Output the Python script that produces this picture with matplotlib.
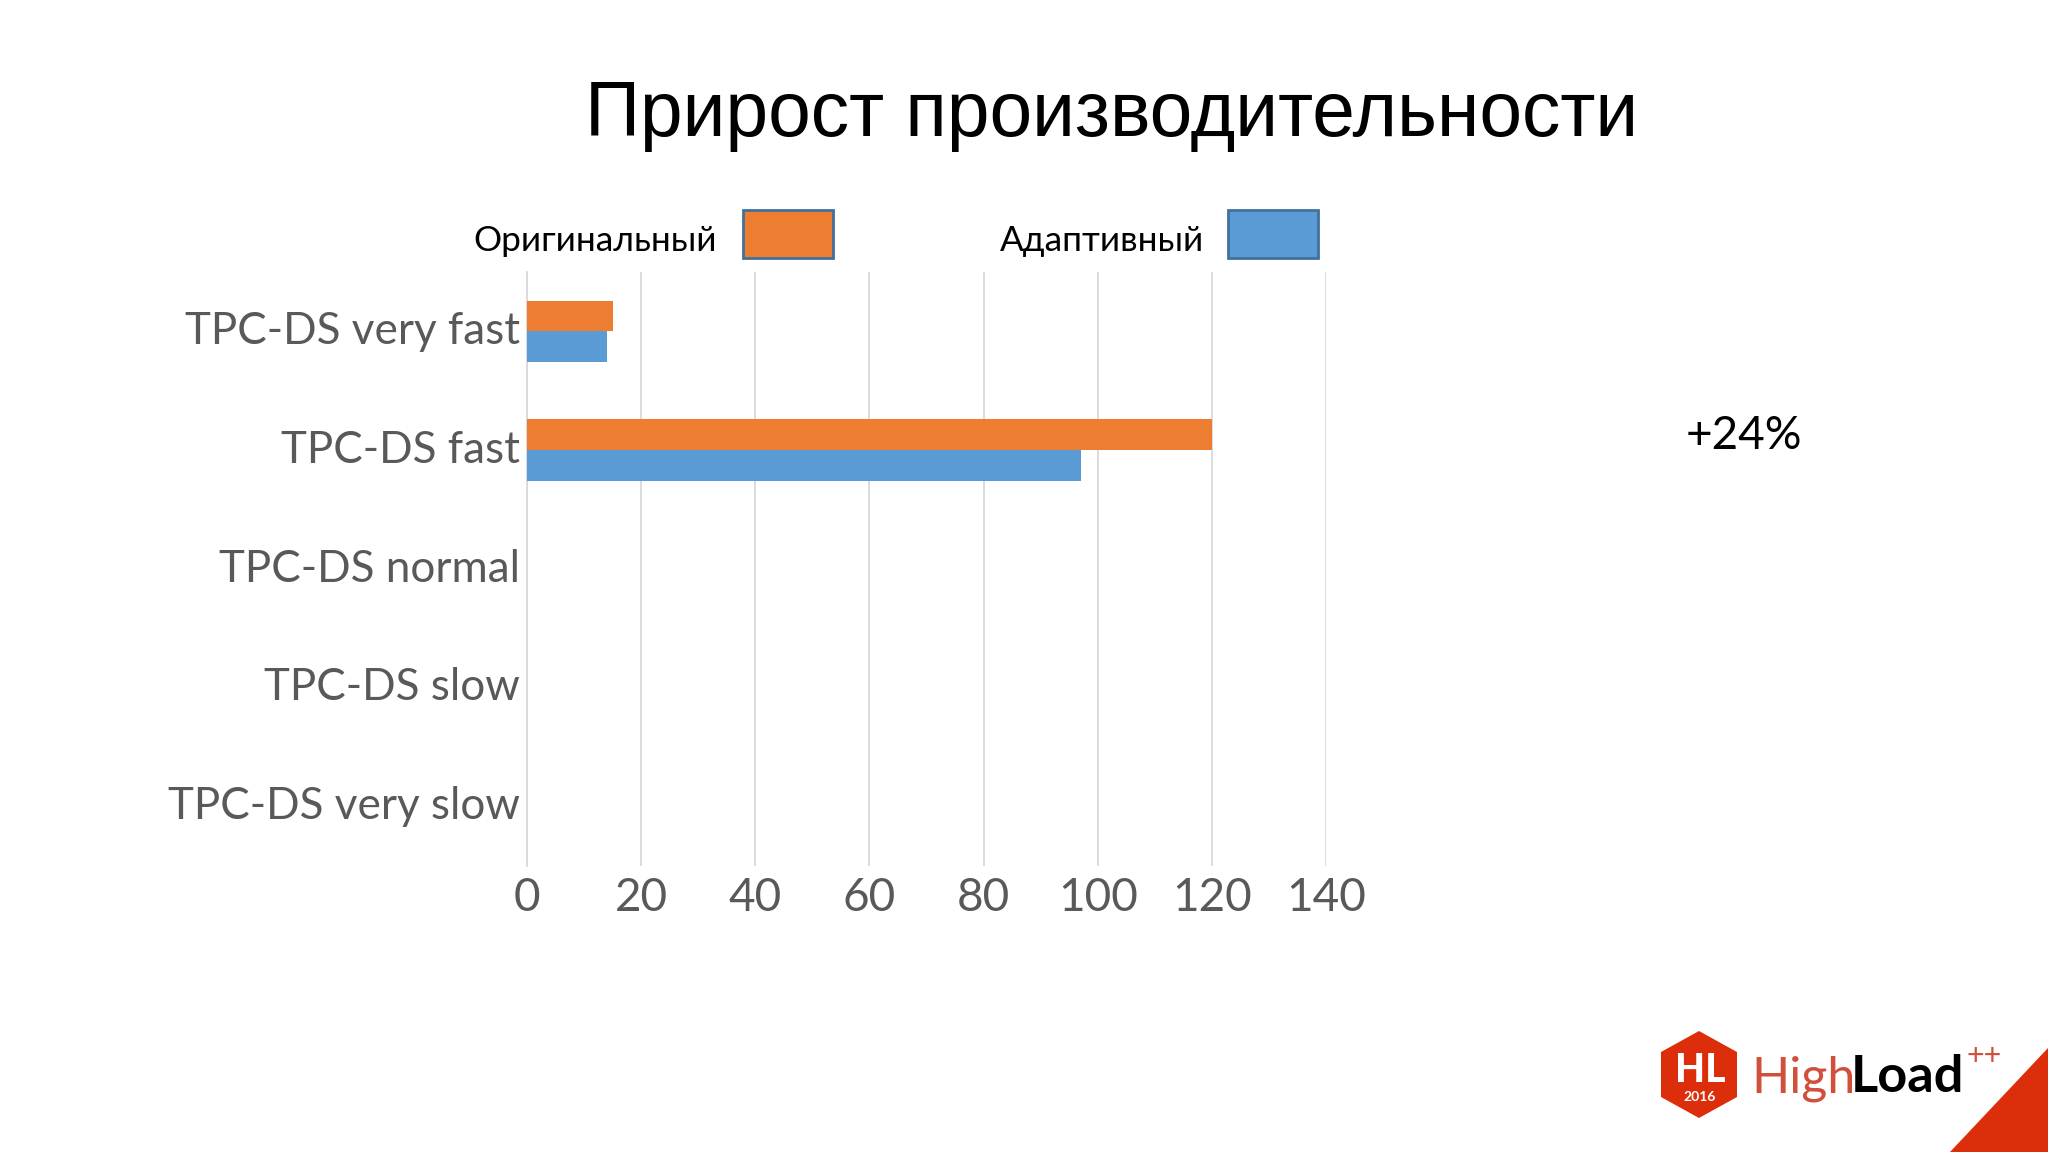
import numpy as np
import matplotlib
matplotlib.use('Agg')
import matplotlib.pyplot as plt
from matplotlib.patches import Polygon, Rectangle

W, H = 2048, 1152

categories = ['TPC-DS very fast', 'TPC-DS fast', 'TPC-DS normal', 'TPC-DS slow', 'TPC-DS very slow']
original = [15, 120, 0, 0, 0]
adaptive = [14, 97, 0, 0, 0]
x_ticks = [0, 20, 40, 60, 80, 100, 120, 140]

ORANGE = '#ED7D31'
BLUE = '#5B9BD5'
RED = '#DC2E0A'
FONT = ['Lato', 'Open Sans', 'DejaVu Sans']

fig = plt.figure(figsize=(W / 100, H / 100), dpi=100)

# slide layer in pixel coordinates, y going down
bg = fig.add_axes([0, 0, 1, 1])
bg.set_xlim(0, W)
bg.set_ylim(H, 0)
bg.axis('off')

# chart
left, right, top, bottom = 527, 1326, 272, 866
ax = fig.add_axes([left / W, 1 - bottom / H, (right - left) / W, (bottom - top) / H])
y = np.arange(len(categories))
bar_h = 0.26
ax.barh(y - bar_h / 2, original, bar_h, color=ORANGE, zorder=3)
ax.barh(y + bar_h / 2, adaptive, bar_h, color=BLUE, zorder=3)
ax.set_xlim(0, 140)
ax.set_ylim(len(categories) - 0.5, -0.5)
ax.set_yticks(y)
ax.set_yticklabels(categories, family=FONT, fontsize=31.7, color='#595959', va='center')
ax.set_xticks(x_ticks)
ax.set_xticklabels(x_ticks, family=FONT, fontsize=33, color='#595959')
ax.tick_params(axis='both', length=0)
ax.tick_params(axis='y', pad=5)
ax.tick_params(axis='x', pad=8)
ax.grid(axis='x', color='#D9D9D9', linewidth=1.3, zorder=0)
for s in ['top', 'right', 'bottom']:
    ax.spines[s].set_visible(False)
ax.spines['left'].set_color('#D9D9D9')
ax.spines['left'].set_linewidth(1.3)
ax.patch.set_alpha(0)

# title
bg.text(1112, 115, 'Прирост производительности', family='Liberation Sans', fontsize=55.2,
        color='black', ha='center', va='center')

# legend
bg.text(473, 241, 'Оригинальный', family=FONT, fontsize=25.4, color='black', ha='left', va='center')
bg.add_patch(Rectangle((743, 210), 90, 48, facecolor=ORANGE, edgecolor='#41719C', linewidth=2))
bg.text(1000, 241, 'Адаптивный', family=FONT, fontsize=25.4, color='black', ha='left', va='center')
bg.add_patch(Rectangle((1228, 210), 90, 48, facecolor=BLUE, edgecolor='#41719C', linewidth=2))

# annotation
bg.text(1686, 436, '+24%', family=FONT, fontsize=33, color='black', ha='left', va='center')

# logo
bg.add_patch(Polygon([(1699, 1031), (1737, 1052), (1737, 1097), (1699, 1118), (1661, 1097), (1661, 1052)],
                     closed=True, facecolor=RED, edgecolor='none'))
bg.text(1700, 1071, 'HL', family='Lato', weight='black', fontsize=28, color='white', ha='center', va='center')
bg.text(1700, 1097, '2016', family='Lato', weight='bold', fontsize=10, color='white', ha='center', va='center')
bg.text(1751, 1092, 'High', family='Lato', weight='normal', fontsize=36, color='#D0503C', ha='left', va='baseline')
bg.text(1851, 1092, 'Load', family='Lato', weight='bold', fontsize=37.7, color='black', ha='left', va='baseline')
bg.text(1966, 1065, '++', family='Lato', weight='normal', fontsize=22, color='#D0503C', ha='left', va='baseline')
bg.add_patch(Polygon([(2048, 1048), (1950, 1152), (2048, 1152)], closed=True, facecolor=RED, edgecolor='none'))

fig.savefig('out.png', dpi=100, facecolor='white')
